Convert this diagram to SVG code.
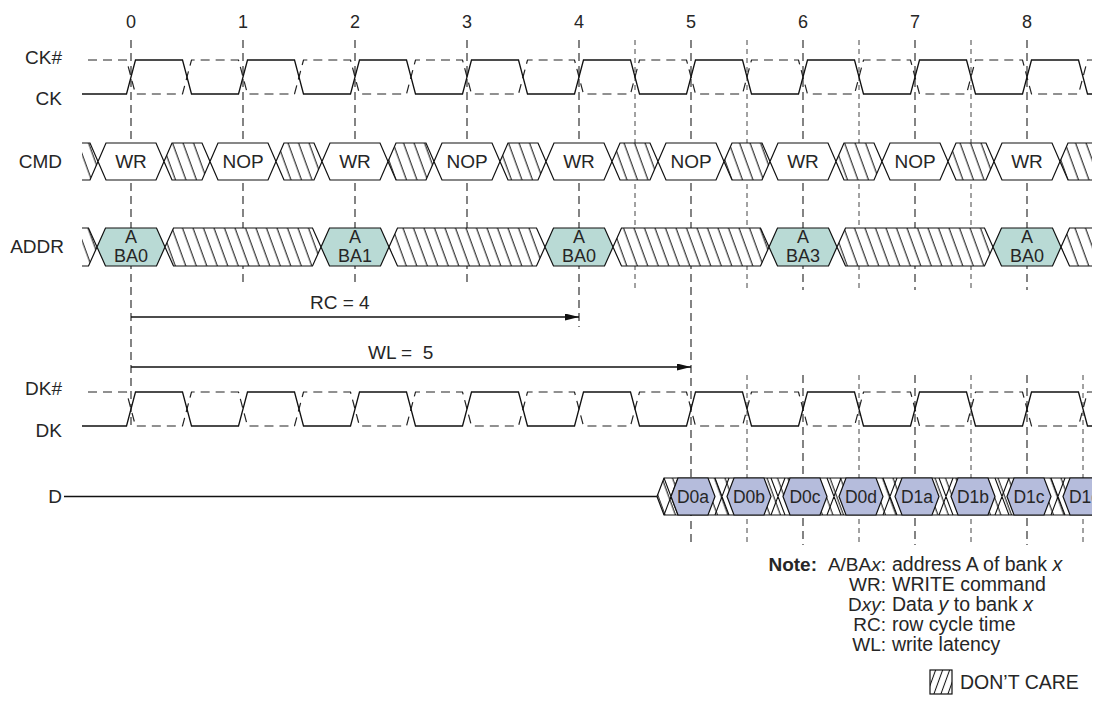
<svg xmlns="http://www.w3.org/2000/svg" xmlns:xlink="http://www.w3.org/1999/xlink" width="1096" height="708" viewBox="0 0 1096 708">
<style>
text{font-family:"Liberation Sans",Arial,sans-serif;fill:#262626}
.lbl{font-size:19px;text-anchor:end}
.num{font-size:18px;text-anchor:middle}
.bt{font-size:19px;text-anchor:middle}
.at{font-size:18px;text-anchor:middle}
.dt{font-size:17.5px;text-anchor:middle}
.nt{font-size:19px}
.nd{font-size:19.5px}
.ne{font-size:19px;text-anchor:end}
.clk{fill:none;stroke:#111;stroke-width:1.3}
.clkn{fill:none;stroke:#222;stroke-width:1.2;stroke-dasharray:9 6}
.g{fill:none;stroke:#333;stroke-width:1.2;stroke-dasharray:8 5}
.h{fill:none;stroke:#444;stroke-width:1;stroke-dasharray:5 4}
.v{fill:#fff;stroke:#111;stroke-width:1.2}
.a{fill:#b9dad5;stroke:#111;stroke-width:1.2}
.d{fill:#b5bcdc;stroke:#111;stroke-width:1.2}
.x{fill:url(#hatch);stroke:#111;stroke-width:1.2}
.arr{stroke:#111;stroke-width:1.3;fill:none;marker-end:url(#ah)}
</style>
<defs>
<pattern id="hatch" patternUnits="userSpaceOnUse" width="10.5" height="40" patternTransform="skewX(20)">
<rect width="10.5" height="40" fill="#fff"/>
<line x1="5" y1="-1" x2="5" y2="41" stroke="#111" stroke-width="1.1"/>
</pattern>
<pattern id="hatchL" patternUnits="userSpaceOnUse" width="7" height="30" patternTransform="skewX(-20)">
<rect width="7" height="30" fill="#fff"/>
<line x1="3.5" y1="-1" x2="3.5" y2="31" stroke="#111" stroke-width="1.1"/>
</pattern>
<marker id="ah" viewBox="0 0 14 7" refX="14" refY="3.5" markerWidth="14" markerHeight="7" markerUnits="userSpaceOnUse" orient="auto">
<path d="M0,0 L14,3.5 L0,7 z" fill="#111"/>
</marker>
<clipPath id="busclip"><rect x="82" y="0" width="1010" height="708"/></clipPath>
<path id="clkP" d="M82,94 H126.5 L135.5,60 H182.5 L191.5,94 H238.5 L247.5,60 H294.5 L303.5,94 H350.5 L359.5,60 H406.5 L415.5,94 H462.5 L471.5,60 H518.5 L527.5,94 H574.5 L583.5,60 H630.5 L639.5,94 H686.5 L695.5,60 H742.5 L751.5,94 H798.5 L807.5,60 H854.5 L863.5,94 H910.5 L919.5,60 H966.5 L975.5,94 H1022.5 L1031.5,60 H1078.5 L1087.5,94 H1092"/>
<path id="clkN" d="M88,60 H126.5 L135.5,94 H182.5 L191.5,60 H238.5 L247.5,94 H294.5 L303.5,60 H350.5 L359.5,94 H406.5 L415.5,60 H462.5 L471.5,94 H518.5 L527.5,60 H574.5 L583.5,94 H630.5 L639.5,60 H686.5 L695.5,94 H742.5 L751.5,60 H798.5 L807.5,94 H854.5 L863.5,60 H910.5 L919.5,94 H966.5 L975.5,60 H1022.5 L1031.5,94 H1078.5 L1087.5,60 H1092"/>
</defs>
<rect width="1096" height="708" fill="#fff"/>

<g id="connectors">
<path class="g" d="M131,40 V430 M243,40 V284 M355,40 V284 M467,40 V284 M579,40 V327 M691,40 V545 M803,40 V290 M915,40 V290 M1027,40 V290 M803,375 V545 M915,375 V545 M1027,375 V545"/>
<path class="h" d="M635,40 V290 M747,40 V290 M859,40 V290 M971,40 V290 M747,375 V545 M859,375 V545 M971,375 V545 M1083,375 V545"/>
<line class="arr" x1="131" y1="317" x2="579" y2="317"/>
<line class="arr" x1="131" y1="367" x2="691" y2="367"/>
</g>

<g id="clock-numbers">
<text class="num" x="131" y="28">0</text>
<text class="num" x="243" y="28">1</text>
<text class="num" x="355" y="28">2</text>
<text class="num" x="467" y="28">3</text>
<text class="num" x="579" y="28">4</text>
<text class="num" x="691" y="28">5</text>
<text class="num" x="803" y="28">6</text>
<text class="num" x="915" y="28">7</text>
<text class="num" x="1027" y="28">8</text>
</g>

<g id="signal-CK">
<text class="lbl" x="62" y="64">CK#</text>
<text class="lbl" x="62" y="105">CK</text>
<use xlink:href="#clkN" class="clkn"/>
<use xlink:href="#clkP" class="clk"/>
</g>

<g id="signal-CMD">
<text class="lbl" x="62" y="168">CMD</text>
<g clip-path="url(#busclip)">
<polygon class="x" points="52,161.5 60,143 90,143 98,161.5 90,180 60,180"/>
<polygon class="v" points="98,161.5 106,143 156,143 164,161.5 156,180 106,180"/>
<polygon class="x" points="164,161.5 172,143 202,143 210,161.5 202,180 172,180"/>
<polygon class="v" points="210,161.5 218,143 268,143 276,161.5 268,180 218,180"/>
<polygon class="x" points="276,161.5 284,143 314,143 322,161.5 314,180 284,180"/>
<polygon class="v" points="322,161.5 330,143 380,143 388,161.5 380,180 330,180"/>
<polygon class="x" points="388,161.5 396,143 426,143 434,161.5 426,180 396,180"/>
<polygon class="v" points="434,161.5 442,143 492,143 500,161.5 492,180 442,180"/>
<polygon class="x" points="500,161.5 508,143 538,143 546,161.5 538,180 508,180"/>
<polygon class="v" points="546,161.5 554,143 604,143 612,161.5 604,180 554,180"/>
<polygon class="x" points="612,161.5 620,143 650,143 658,161.5 650,180 620,180"/>
<polygon class="v" points="658,161.5 666,143 716,143 724,161.5 716,180 666,180"/>
<polygon class="x" points="724,161.5 732,143 762,143 770,161.5 762,180 732,180"/>
<polygon class="v" points="770,161.5 778,143 828,143 836,161.5 828,180 778,180"/>
<polygon class="x" points="836,161.5 844,143 874,143 882,161.5 874,180 844,180"/>
<polygon class="v" points="882,161.5 890,143 940,143 948,161.5 940,180 890,180"/>
<polygon class="x" points="948,161.5 956,143 986,143 994,161.5 986,180 956,180"/>
<polygon class="v" points="994,161.5 1002,143 1052,143 1060,161.5 1052,180 1002,180"/>
<polygon class="x" points="1060,161.5 1068,143 1098,143 1106,161.5 1098,180 1068,180"/>
</g>
<text class="bt" x="131" y="168">WR</text>
<text class="bt" x="243" y="168">NOP</text>
<text class="bt" x="355" y="168">WR</text>
<text class="bt" x="467" y="168">NOP</text>
<text class="bt" x="579" y="168">WR</text>
<text class="bt" x="691" y="168">NOP</text>
<text class="bt" x="803" y="168">WR</text>
<text class="bt" x="915" y="168">NOP</text>
<text class="bt" x="1027" y="168">WR</text>
</g>

<g id="signal-ADDR">
<text class="lbl" x="64" y="253">ADDR</text>
<g clip-path="url(#busclip)">
<polygon class="x" points="40,247 48.5,228 88.5,228 97,247 88.5,266 48.5,266"/>
<polygon class="a" points="97,247 105.5,228 156.5,228 165,247 156.5,266 105.5,266"/>
<polygon class="x" points="165,247 173.5,228 312.5,228 321,247 312.5,266 173.5,266"/>
<polygon class="a" points="321,247 329.5,228 380.5,228 389,247 380.5,266 329.5,266"/>
<polygon class="x" points="389,247 397.5,228 536.5,228 545,247 536.5,266 397.5,266"/>
<polygon class="a" points="545,247 553.5,228 604.5,228 613,247 604.5,266 553.5,266"/>
<polygon class="x" points="613,247 621.5,228 760.5,228 769,247 760.5,266 621.5,266"/>
<polygon class="a" points="769,247 777.5,228 828.5,228 837,247 828.5,266 777.5,266"/>
<polygon class="x" points="837,247 845.5,228 984.5,228 993,247 984.5,266 845.5,266"/>
<polygon class="a" points="993,247 1001.5,228 1052.5,228 1061,247 1052.5,266 1001.5,266"/>
<polygon class="x" points="1061,247 1069.5,228 1111.5,228 1120,247 1111.5,266 1069.5,266"/>
</g>
<text class="at" x="131" y="243">A</text><text class="at" x="131" y="262">BA0</text>
<text class="at" x="355" y="243">A</text><text class="at" x="355" y="262">BA1</text>
<text class="at" x="579" y="243">A</text><text class="at" x="579" y="262">BA0</text>
<text class="at" x="803" y="243">A</text><text class="at" x="803" y="262">BA3</text>
<text class="at" x="1027" y="243">A</text><text class="at" x="1027" y="262">BA0</text>
</g>

<g id="timing-RC">
<text class="nt" x="310" y="309">RC = 4</text>
</g>
<g id="timing-WL">
<text class="nt" x="368" y="359" xml:space="preserve">WL =  5</text>
</g>

<g id="signal-DK">
<text class="lbl" x="62" y="395">DK#</text>
<text class="lbl" x="62" y="437">DK</text>
<use xlink:href="#clkN" class="clkn" transform="translate(0,332)"/>
<use xlink:href="#clkP" class="clk" transform="translate(0,332)"/>
</g>

<g id="signal-D">
<text class="lbl" x="62" y="503">D</text>
<line x1="64" y1="496.5" x2="657" y2="496.5" stroke="#111" stroke-width="1.3"/>
<g clip-path="url(#busclip)">
<polygon points="657,496.5 664,478 1100,478 1100,515 664,515" fill="url(#hatch)" stroke="#111" stroke-width="1.2"/>
<path d="M664,478 L678,515 M664,515 L678,478 M715,478 L729,515 M715,515 L729,478 M771,478 L785,515 M771,515 L785,478 M827,478 L841,515 M827,515 L841,478 M883,478 L897,515 M883,515 L897,478 M939,478 L953,515 M939,515 L953,478 M995,478 L1009,515 M995,515 L1009,478 M1051,478 L1065,515 M1051,515 L1065,478" stroke="#111" stroke-width="1.1" fill="none"/>
<polygon class="d" points="671,496.5 678,478 708,478 715,496.5 708,515 678,515"/>
<polygon class="d" points="727,496.5 734,478 764,478 771,496.5 764,515 734,515"/>
<polygon class="d" points="783,496.5 790,478 820,478 827,496.5 820,515 790,515"/>
<polygon class="d" points="839,496.5 846,478 876,478 883,496.5 876,515 846,515"/>
<polygon class="d" points="895,496.5 902,478 932,478 939,496.5 932,515 902,515"/>
<polygon class="d" points="951,496.5 958,478 988,478 995,496.5 988,515 958,515"/>
<polygon class="d" points="1007,496.5 1014,478 1044,478 1051,496.5 1044,515 1014,515"/>
<polygon class="d" points="1063,496.5 1070,478 1100,478 1107,496.5 1100,515 1070,515"/>
<text class="dt" x="693" y="503">D0a</text>
<text class="dt" x="749" y="503">D0b</text>
<text class="dt" x="805" y="503">D0c</text>
<text class="dt" x="861" y="503">D0d</text>
<text class="dt" x="917" y="503">D1a</text>
<text class="dt" x="973" y="503">D1b</text>
<text class="dt" x="1029" y="503">D1c</text>
<text class="dt" x="1085" y="503">D1d</text>
</g>
</g>

<g id="note">
<text class="ne" x="817" y="571" font-weight="bold">Note:</text>
<text class="ne" x="886" y="571">A/BA<tspan font-style="italic">x</tspan>:</text>
<text class="nd" x="892" y="571">address A of bank <tspan font-style="italic">x</tspan></text>
<text class="ne" x="886" y="591">WR:</text>
<text class="nd" x="892" y="591">WRITE command</text>
<text class="ne" x="886" y="611">D<tspan font-style="italic">xy</tspan>:</text>
<text class="nd" x="892" y="611">Data <tspan font-style="italic">y</tspan> to bank <tspan font-style="italic">x</tspan></text>
<text class="ne" x="886" y="631">RC:</text>
<text class="nd" x="892" y="631">row cycle time</text>
<text class="ne" x="886" y="651">WL:</text>
<text class="nd" x="892" y="651">write latency</text>
</g>

<g id="legend">
<rect x="930" y="670" width="22" height="24" fill="url(#hatchL)" stroke="#111" stroke-width="1.2"/>
<text class="nd" x="960" y="689">DON’T CARE</text>
</g>
</svg>
